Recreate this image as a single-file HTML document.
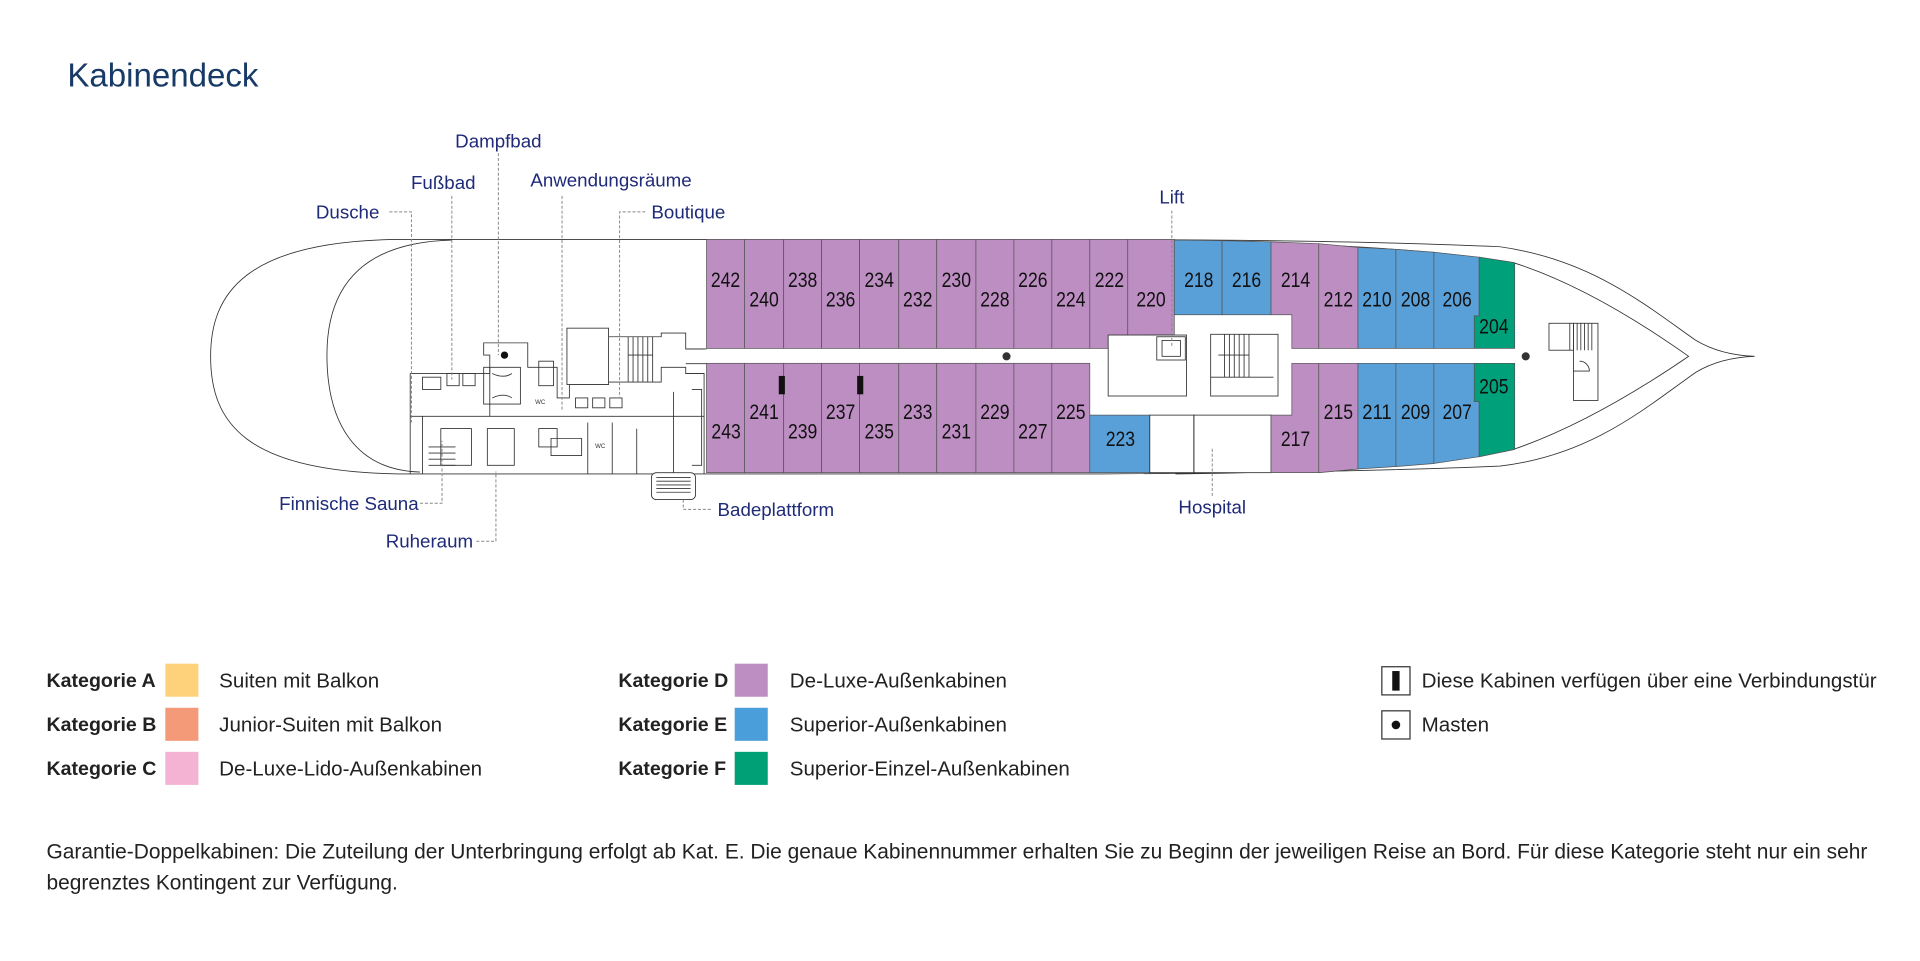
<!DOCTYPE html>
<html><head><meta charset="utf-8">
<style>
html,body{margin:0;padding:0;background:#fff;}
svg{display:block;}
.num{font-family:"Liberation Sans Narrow","Liberation Sans",sans-serif;font-size:17px;fill:#111;text-anchor:middle;dominant-baseline:central;}
.lbl{font-family:"Liberation Sans",sans-serif;font-size:15.3px;fill:#1f2a78;dominant-baseline:central;}
.lg{font-family:"Liberation Sans",sans-serif;font-size:16.8px;fill:#222;dominant-baseline:central;}
.ft{font-family:"Liberation Sans",sans-serif;font-size:17.1px;fill:#222;dominant-baseline:central;}
.lgb{font-family:"Liberation Sans",sans-serif;font-size:16px;fill:#222;font-weight:bold;dominant-baseline:central;}
.dash{stroke:#888;stroke-width:0.8;stroke-dasharray:2.5 1.5;fill:none;}
.ln{stroke:#333;stroke-width:0.7;fill:none;}
.lnw{stroke:#333;stroke-width:0.7;fill:#fff;}
.P{fill:#bd8ec2;stroke:#555;stroke-width:0.6;}
.B{fill:#5aa0d8;stroke:#555;stroke-width:0.6;}
.G{fill:#00a07a;stroke:#555;stroke-width:0.6;}
</style></head><body>
<svg width="1920" height="961" viewBox="0 0 1568 784.8" xmlns="http://www.w3.org/2000/svg">
<text x="55" y="62" font-family="Liberation Sans, sans-serif" font-size="27" fill="#173a66" dominant-baseline="central">Kabinendeck</text>

<path class="ln" d="M325,195.5 L900,195.5 Q1100,196 1225,201.5 C1300,212 1345,250 1385,278 Q1405,290 1433,291 Q1405,292 1385,304 C1345,332 1300,372 1225,380.6 Q1100,386 900,387 L325,387 C200,385 172,345 172,291 C172,240 200,197 325,195.5 Z"/>
<path class="ln" d="M369,196 C290,198 267,240 267,290 C267,345 290,384 343,385.5"/>
<path class="ln" d="M960,196 Q1150,200 1236,214.5 Q1300,235 1379,291 Q1300,345 1236,367 Q1150,385 960,387"/>

<g>
<rect class="P" x="577" y="195.5" width="31" height="89"/>
<rect class="P" x="608" y="195.5" width="32" height="89"/>
<rect class="P" x="640" y="195.5" width="31" height="89"/>
<rect class="P" x="671" y="195.5" width="31" height="89"/>
<rect class="P" x="702" y="195.5" width="32" height="89"/>
<rect class="P" x="734" y="195.5" width="31" height="89"/>
<rect class="P" x="765" y="195.5" width="32" height="89"/>
<rect class="P" x="797" y="195.5" width="31" height="89"/>
<rect class="P" x="828" y="195.5" width="31" height="89"/>
<rect class="P" x="859" y="195.5" width="31" height="89"/>
<rect class="P" x="890" y="195.5" width="31" height="89"/>
<polygon class="P" points="921,195.5 959,195.5 959,273.5 935,273.5 935,284.5 921,284.5"/>
<polygon class="B" points="959,196 998,196.5 998,257 959,257"/>
<polygon class="B" points="998,196.5 1038,197.5 1038,257 998,257"/>
<polygon class="P" points="1038,197.5 1077,199 1077,284.5 1055,284.5 1055,257 1038,257"/>
<polygon class="P" points="1077,199 1109,202 1109,284.5 1077,284.5"/>
<polygon class="B" points="1109,202 1140,203.6 1140,284.5 1109,284.5"/>
<polygon class="B" points="1140,203.6 1171,206 1171,284.5 1140,284.5"/>
<polygon class="B" points="1171,206 1208,210 1208,258 1204,258 1204,284.5 1171,284.5"/>
<polygon class="G" points="1208,210 1237,214.5 1237,284.5 1204,284.5 1204,258 1208,258"/>
</g>
<g>
<rect class="P" x="577" y="296.7" width="31" height="89.3"/>
<rect class="P" x="608" y="296.7" width="32" height="89.3"/>
<rect class="P" x="640" y="296.7" width="31" height="89.3"/>
<rect class="P" x="671" y="296.7" width="31" height="89.3"/>
<rect class="P" x="702" y="296.7" width="32" height="89.3"/>
<rect class="P" x="734" y="296.7" width="31" height="89.3"/>
<rect class="P" x="765" y="296.7" width="32" height="89.3"/>
<rect class="P" x="797" y="296.7" width="31" height="89.3"/>
<rect class="P" x="828" y="296.7" width="31" height="89.3"/>
<rect class="P" x="859" y="296.7" width="31" height="89.3"/>
<rect class="B" x="890" y="339" width="49" height="47"/>
<rect class="lnw" x="939" y="339" width="36" height="47"/>
<rect class="lnw" x="975" y="339" width="63" height="47"/>
<polygon class="P" points="1038,339 1055,339 1055,296.7 1077,296.7 1077,386 1038,386"/>
<polygon class="P" points="1077,296.7 1109,296.7 1109,383 1077,386"/>
<polygon class="B" points="1109,296.7 1140,296.7 1140,381 1109,383"/>
<polygon class="B" points="1140,296.7 1171,296.7 1171,378.5 1140,381"/>
<polygon class="B" points="1171,296.7 1204,296.7 1204,328 1208,328 1208,373 1171,378.5"/>
<polygon class="G" points="1208,296.7 1237,296.7 1237,367 1208,373 1208,328 1204,328 1204,296.7"/>
</g>

<rect class="lnw" x="905" y="273.6" width="64" height="49.8"/>
<rect class="lnw" x="944.7" y="275" width="23.3" height="19"/>
<rect class="ln" x="949" y="278" width="15" height="13"/>
<rect class="lnw" x="988.7" y="273" width="55" height="50.4"/>
<g class="ln">
<path d="M1000,273 V308 M1004,273 V308 M1008,273 V308 M1012,273 V308 M1016,273 V308 M1020,273 V308 M1000,290 H1020 M995,290 H1020 M988.7,308 H1040"/>
</g>
<line class="ln" x1="975" y1="339" x2="975" y2="386"/>

<circle cx="822" cy="291" r="3.3" fill="#333"/>
<circle cx="1246" cy="291" r="3.3" fill="#333"/>
<circle cx="412" cy="290" r="3" fill="#111"/>
<rect x="636" y="307" width="5" height="15" fill="#111"/>
<rect x="700" y="307" width="5" height="15" fill="#111"/>

<rect class="lnw" x="1265" y="264" width="20" height="22"/>
<rect class="lnw" x="1285" y="264" width="20" height="63"/>
<path class="ln" d="M1282,264 V286 M1285,264 V286 M1288,264 V286 M1291,264 V286 M1294,264 V286 M1297,264 V286 M1300,264 V286 M1290,295 A8,8 0 0 1 1298,303 H1285"/>

<g class="ln">
<path d="M335,305 H400 V290 H395 V280 H431 V300 H455 V325 H465 V314 H497 V270 H463 V314"/>
<rect x="463" y="268" width="34" height="46" fill="#fff"/>
<path d="M497,275 H540 V272 H560 V285 H575 M497,312 H540 V300 H560 V305 H575"/>
<path d="M513,275 V312 M517,275 V312 M521,275 V312 M525,275 V312 M529,275 V312 M533,275 V312 M513,290 H533"/>
<path d="M335,305 V387 M335,340 H575 M345,340 V387 M400,300 V340 M360,350 H385 V380 H360 Z M398,350 H420 V380 H398 Z M440,350 H455 V365 H440 Z M450,358 H475 V372 H450 Z M480,345 V387 M500,345 V387 M520,350 V387 M550,320 V387 M560,305 H575 V387"/>
<path d="M395,300 H425 V330 H395 Z M402,305 C408,308 414,308 418,305 M402,325 C408,322 414,322 418,325"/>
<path d="M345,308 H360 V318 H345 Z M365,305 H375 V315 H365 Z M378,305 H388 V315 H378 Z"/>
<path d="M470,325 H480 V333 H470 Z M484,325 H494 V333 H484 Z M498,325 H508 V333 H498 Z M440,295 H452 V315 H440 Z"/>
<path d="M350,365 H372 M350,370 H372 M350,375 H372 M350,380 H372"/>
<path d="M565,318 H573 V380 H565"/>
</g>
<text x="437" y="330" font-family="Liberation Sans, sans-serif" font-size="5" fill="#333">WC</text>
<text x="486" y="366" font-family="Liberation Sans, sans-serif" font-size="5" fill="#333">WC</text>

<rect class="lnw" x="532" y="386" width="36" height="22" rx="4"/>
<path class="ln" d="M536,390 H564 M536,393 H564 M536,396 H564 M536,399 H564 M536,402 H564"/>
<path class="ln" d="M560,285 H577 M560,297 H577"/>

<g class="num">
<text x="592.5" y="229" textLength="24" lengthAdjust="spacingAndGlyphs">242</text><text x="624" y="245" textLength="24" lengthAdjust="spacingAndGlyphs">240</text><text x="655.5" y="229" textLength="24" lengthAdjust="spacingAndGlyphs">238</text><text x="686.5" y="245" textLength="24" lengthAdjust="spacingAndGlyphs">236</text>
<text x="718" y="229" textLength="24" lengthAdjust="spacingAndGlyphs">234</text><text x="749.5" y="245" textLength="24" lengthAdjust="spacingAndGlyphs">232</text><text x="781" y="229" textLength="24" lengthAdjust="spacingAndGlyphs">230</text><text x="812.5" y="245" textLength="24" lengthAdjust="spacingAndGlyphs">228</text>
<text x="843.5" y="229" textLength="24" lengthAdjust="spacingAndGlyphs">226</text><text x="874.5" y="245" textLength="24" lengthAdjust="spacingAndGlyphs">224</text><text x="906" y="229" textLength="24" lengthAdjust="spacingAndGlyphs">222</text><text x="940" y="245" textLength="24" lengthAdjust="spacingAndGlyphs">220</text>
<text x="979" y="229" textLength="24" lengthAdjust="spacingAndGlyphs">218</text><text x="1018" y="229" textLength="24" lengthAdjust="spacingAndGlyphs">216</text><text x="1058" y="229" textLength="24" lengthAdjust="spacingAndGlyphs">214</text><text x="1093" y="245" textLength="24" lengthAdjust="spacingAndGlyphs">212</text>
<text x="1124.5" y="245" textLength="24" lengthAdjust="spacingAndGlyphs">210</text><text x="1156" y="245" textLength="24" lengthAdjust="spacingAndGlyphs">208</text><text x="1190" y="245" textLength="24" lengthAdjust="spacingAndGlyphs">206</text><text x="1220" y="267" textLength="24" lengthAdjust="spacingAndGlyphs">204</text>
<text x="593" y="353" textLength="24" lengthAdjust="spacingAndGlyphs">243</text><text x="624" y="337" textLength="24" lengthAdjust="spacingAndGlyphs">241</text><text x="655.5" y="353" textLength="24" lengthAdjust="spacingAndGlyphs">239</text><text x="686.5" y="337" textLength="24" lengthAdjust="spacingAndGlyphs">237</text>
<text x="718" y="353" textLength="24" lengthAdjust="spacingAndGlyphs">235</text><text x="749.5" y="337" textLength="24" lengthAdjust="spacingAndGlyphs">233</text><text x="781" y="353" textLength="24" lengthAdjust="spacingAndGlyphs">231</text><text x="812.5" y="337" textLength="24" lengthAdjust="spacingAndGlyphs">229</text>
<text x="843.5" y="353" textLength="24" lengthAdjust="spacingAndGlyphs">227</text><text x="874.5" y="337" textLength="24" lengthAdjust="spacingAndGlyphs">225</text><text x="915" y="359" textLength="24" lengthAdjust="spacingAndGlyphs">223</text><text x="1058" y="359" textLength="24" lengthAdjust="spacingAndGlyphs">217</text>
<text x="1093" y="337" textLength="24" lengthAdjust="spacingAndGlyphs">215</text><text x="1124.5" y="337" textLength="24" lengthAdjust="spacingAndGlyphs">211</text><text x="1156" y="337" textLength="24" lengthAdjust="spacingAndGlyphs">209</text><text x="1190" y="337" textLength="24" lengthAdjust="spacingAndGlyphs">207</text>
<text x="1220" y="316" textLength="24" lengthAdjust="spacingAndGlyphs">205</text>
</g>

<g class="lbl">
<text x="407" y="115" text-anchor="middle">Dampfbad</text>
<text x="362" y="149" text-anchor="middle">Fußbad</text>
<text x="499" y="147" text-anchor="middle">Anwendungsräume</text>
<text x="258" y="173">Dusche</text>
<text x="532" y="173">Boutique</text>
<text x="957" y="161" text-anchor="middle">Lift</text>
<text x="228" y="411">Finnische Sauna</text>
<text x="315" y="442">Ruheraum</text>
<text x="586" y="416">Badeplattform</text>
<text x="990" y="414" text-anchor="middle">Hospital</text>
</g>
<g class="dash">
<path d="M318,173 H336 V345"/>
<path d="M369,160 V310"/>
<path d="M407,125 V290"/>
<path d="M459,160 V335"/>
<path d="M527,173 H506 V325"/>
<path d="M957,172 V283"/>
<path d="M343,411 H361 V360"/>
<path d="M389,442 H405 V385"/>
<path d="M558,408 V416 H581"/>
<path d="M990,405 V365"/>
</g>

<text class="lgb" x="38" y="556">Kategorie A</text>
<rect x="135" y="542" width="27" height="27" fill="#fdd27a"/>
<text class="lg" x="179" y="556">Suiten mit Balkon</text>
<text class="lgb" x="38" y="592">Kategorie B</text>
<rect x="135" y="578" width="27" height="27" fill="#f59a78"/>
<text class="lg" x="179" y="592">Junior-Suiten mit Balkon</text>
<text class="lgb" x="38" y="628">Kategorie C</text>
<rect x="135" y="614" width="27" height="27" fill="#f4b3d3"/>
<text class="lg" x="179" y="628">De-Luxe-Lido-Außenkabinen</text>

<text class="lgb" x="505" y="556">Kategorie D</text>
<rect x="600" y="542" width="27" height="27" fill="#bd8ec2"/>
<text class="lg" x="645" y="556">De-Luxe-Außenkabinen</text>
<text class="lgb" x="505" y="592">Kategorie E</text>
<rect x="600" y="578" width="27" height="27" fill="#4a9fdb"/>
<text class="lg" x="645" y="592">Superior-Außenkabinen</text>
<text class="lgb" x="505" y="628">Kategorie F</text>
<rect x="600" y="614" width="27" height="27" fill="#00a077"/>
<text class="lg" x="645" y="628">Superior-Einzel-Außenkabinen</text>

<rect x="1128.5" y="544.5" width="23" height="23" fill="#fff" stroke="#333" stroke-width="1"/>
<rect x="1137" y="548" width="6" height="16" fill="#111"/>
<text class="lg" x="1161" y="556">Diese Kabinen verfügen über eine Verbindungstür</text>
<rect x="1128.5" y="580.5" width="23" height="23" fill="#fff" stroke="#333" stroke-width="1"/>
<circle cx="1140" cy="592" r="3.5" fill="#111"/>
<text class="lg" x="1161" y="592">Masten</text>

<text class="ft" x="38" y="696" textLength="1487" lengthAdjust="spacingAndGlyphs">Garantie-Doppelkabinen: Die Zuteilung der Unterbringung erfolgt ab Kat. E. Die genaue Kabinennummer erhalten Sie zu Beginn der jeweiligen Reise an Bord. Für diese Kategorie steht nur ein sehr</text>
<text class="ft" x="38" y="721">begrenztes Kontingent zur Verfügung.</text>
</svg>
</body></html>
